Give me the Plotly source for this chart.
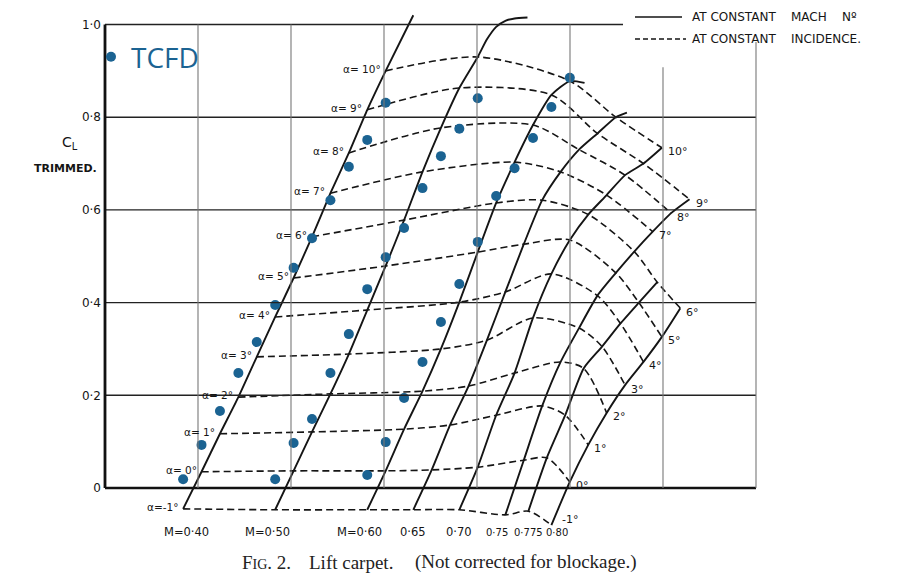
import plotly.graph_objects as go

# ---------------- data ----------------
alphas = [-1, 0, 1, 2, 3, 4, 5, 6, 7, 8, 9, 10]
machs = [0.40, 0.50, 0.60, 0.65, 0.70, 0.75, 0.775, 0.80]
mach_labels = ["M=0·40", "M=0·50", "M=0·60", "0·65", "0·70", "0·75", "0·775", "0·80"]

# trimmed CL at constant Mach number, indexed by alpha (None = not measured)
cl_m040 = [-0.045, 0.035, 0.117, 0.196, 0.283, 0.369, 0.453, 0.542, 0.636, 0.723, 0.816, 0.900]
cl_m050 = [-0.047, 0.037, 0.121, 0.203, 0.289, 0.384, 0.479, 0.578, 0.682, 0.777, 0.863, 0.930]
cl_m060 = [-0.047, 0.037, 0.127, 0.209, 0.300, 0.401, 0.509, 0.615, 0.703, 0.783, 0.848, 0.878]
cl_m065 = [-0.047, 0.039, 0.136, 0.220, 0.319, 0.423, 0.526, 0.621, 0.682, 0.730, 0.765, 0.800]
cl_m070 = [-0.047, 0.045, 0.157, 0.248, 0.367, 0.462, 0.535, 0.590, 0.632, 0.675, 0.700, 0.734]
cl_m075 = [-0.058, 0.060, 0.177, 0.272, 0.345, 0.415, 0.464, 0.510, 0.553, 0.593, 0.623, None]
cl_m0775 = [-0.050, 0.065, 0.157, 0.258, 0.305, 0.355, 0.400, 0.444, None, None, None, None]
cl_m080 = [-0.080, 0.013, 0.093, 0.162, 0.222, 0.272, 0.326, 0.388, None, None, None, None]
cl_table = [cl_m040, cl_m050, cl_m060, cl_m065, cl_m070, cl_m075, cl_m0775, cl_m080]

# continuation of the constant-Mach curves beyond alpha = 10
ext_alpha = {0.40: [11.5], 0.50: [10.5, 11.0, 11.5, 12.0, 12.7], 0.60: [10.8], 0.65: [10.6]}
ext_cl = {0.40: [1.02], 0.50: [0.968, 0.995, 1.008, 1.013, 1.015], 0.60: [0.874], 0.65: [0.81]}

# TCFD results
tcfd_machs = [0.40, 0.50, 0.60]
tcfd_m040 = [0.019, 0.093, 0.166, 0.248, 0.315, 0.395, 0.475, 0.539, 0.621, 0.693, 0.751, 0.831]
tcfd_m050 = [0.019, 0.097, 0.149, 0.248, 0.332, 0.429, 0.498, 0.561, 0.647, 0.716, 0.775, 0.841]
tcfd_m060 = [0.028, 0.099, 0.194, 0.272, 0.358, 0.440, 0.531, 0.630, 0.690, 0.755, 0.822, 0.885]
tcfd_table = [tcfd_m040, tcfd_m050, tcfd_m060]

y_ticks = [0, 0.2, 0.4, 0.6, 0.8, 1.0]
y_ticktext = ["0", "0·2", "0·4", "0·6", "0·8", "1·0"]

# ---------------- page geometry (page has an 8px body margin) ----------------
OFF = 8
W, H = 900 - OFF, 584 - OFF
X0PX, Y0PX, GRIDPX, CLPX = 105, 488, 93.0, 463.5   # axis origin and scale in page pixels


def px(xp):
    return (xp - OFF) / W


def py(yp):
    return 1 - (yp - OFF) / H


def carpet_x(m, a):
    return 0.84 + 9.9 * (m - 0.40) + 0.198 * (a + 1)


INK = "#151515"
BLUE = "#1b6392"
fig = go.Figure()

# constant-Mach curves (solid)
for m, row in zip(machs, cl_table):
    aa = [a for a, c in zip(alphas, row) if c is not None]
    cc = [c for c in row if c is not None]
    aa += ext_alpha.get(m, [])
    cc += ext_cl.get(m, [])
    fig.add_trace(go.Scatter(x=[carpet_x(m, a) for a in aa], y=cc, mode="lines",
                             line=dict(color=INK, width=1.9, shape="spline", smoothing=0.6),
                             showlegend=False, hoverinfo="skip"))

# constant-incidence curves (dashed)
for j, a in enumerate(alphas):
    mm = [m for m, row in zip(machs, cl_table) if row[j] is not None]
    cc = [row[j] for row in cl_table if row[j] is not None]
    fig.add_trace(go.Scatter(x=[carpet_x(m, a) for m in mm], y=cc, mode="lines",
                             line=dict(color=INK, width=1.6, dash="7px,4px", shape="spline", smoothing=0.8),
                             showlegend=False, hoverinfo="skip"))
    txt = "α=%d°" % a if a < 0 else "α= %d°" % a
    fig.add_annotation(x=carpet_x(machs[0], a), y=cc[0], text=txt, showarrow=False,
                       xanchor="right", yanchor="middle", xshift=-3, yshift=2,
                       font=dict(family="DejaVu Sans", size=10.5, color=INK))
    end_dx, end_dy = (9, 6) if a < 0 else (4, -4)
    fig.add_annotation(x=carpet_x(mm[-1], a), y=cc[-1], text="%d°" % a, showarrow=False,
                       xanchor="left", yanchor="middle", xshift=end_dx, yshift=end_dy,
                       font=dict(family="DejaVu Sans", size=11, color=INK))

# Mach labels under the carpet
label_shift = [3, -8, -8, 0, 0, -8, 0, 6]
label_size = [11.5, 11.5, 11.5, 11.5, 11.5, 10, 10, 10]
for m, lab, sh, sz in zip(machs, mach_labels, label_shift, label_size):
    fig.add_annotation(x=carpet_x(m, alphas[0]), y=(Y0PX - 532) / CLPX, text=lab, showarrow=False,
                       xanchor="center", yanchor="middle", xshift=sh,
                       font=dict(family="DejaVu Sans", size=sz, color=INK))

# TCFD points
tx, ty = [], []
for m, row in zip(tcfd_machs, tcfd_table):
    for a, c in zip(alphas, row):
        tx.append(carpet_x(m, a))
        ty.append(c)
fig.add_trace(go.Scatter(x=tx, y=ty, mode="markers", name="TCFD",
                         marker=dict(color=BLUE, size=10), showlegend=True))

# ---------------- grid ----------------
shapes = []
for lvl in [0.2, 0.4, 0.6, 0.8]:
    shapes.append(dict(type="line", xref="x", yref="y", x0=0, x1=7, y0=lvl, y1=lvl,
                       line=dict(color="#222", width=1.4)))
shapes.append(dict(type="line", xref="x", yref="y", x0=0, x1=5.57, y0=1.0, y1=1.0,
                   line=dict(color="#222", width=1.6)))
shapes.append(dict(type="line", xref="x", yref="y", x0=0, x1=7, y0=0, y1=0,
                   line=dict(color="#111", width=2.6)))
v_tops = [1.0, 1.0, 1.0, 1.0, 1.0, 0.908, 0.962]
for i, top in enumerate(v_tops, start=1):
    shapes.append(dict(type="line", xref="x", yref="y", x0=i, x1=i, y0=0, y1=top,
                       line=dict(color="#777", width=1.1)))
shapes.append(dict(type="line", xref="x", yref="y", x0=0, x1=0, y0=0, y1=1.0,
                   line=dict(color="#111", width=2.8)))
# key at top right
shapes.append(dict(type="line", xref="paper", yref="paper", x0=px(635), x1=px(682),
                   y0=py(17), y1=py(17), line=dict(color=INK, width=1.4)))
shapes.append(dict(type="line", xref="paper", yref="paper", x0=px(635), x1=px(686),
                   y0=py(39), y1=py(39), line=dict(color=INK, width=1.4, dash="5px,3px")))

ann_font = dict(family="DejaVu Sans", size=12, color=INK)
fig.add_annotation(xref="paper", yref="paper", x=px(690), y=py(17), xanchor="left", yanchor="middle",
                   text="AT CONSTANT\u00a0\u00a0\u00a0 MACH\u00a0\u00a0\u00a0 Nº", showarrow=False, font=ann_font)
fig.add_annotation(xref="paper", yref="paper", x=px(690), y=py(39), xanchor="left", yanchor="middle",
                   text="AT CONSTANT\u00a0\u00a0\u00a0 INCIDENCE.", showarrow=False, font=ann_font)
fig.add_annotation(xref="paper", yref="paper", x=px(70), y=py(143), xanchor="center", yanchor="middle",
                   text="C<sub>L</sub>", showarrow=False, font=dict(family="DejaVu Sans", size=14, color=INK))
fig.add_annotation(xref="paper", yref="paper", x=px(66), y=py(169), xanchor="center", yanchor="middle",
                   text="<b>TRIMMED.</b>", showarrow=False, font=dict(family="DejaVu Sans", size=11, color=INK))

cap_font = dict(family="Liberation Serif", size=19, color="#222")
fig.add_annotation(xref="paper", yref="paper", x=px(240), y=py(562), xanchor="left", yanchor="middle",
                   text="F<span style='font-size:14px'>IG</span>. 2.", showarrow=False, font=cap_font)
fig.add_annotation(xref="paper", yref="paper", x=px(307), y=py(562), xanchor="left", yanchor="middle",
                   text="Lift carpet.", showarrow=False, font=cap_font)
fig.add_annotation(xref="paper", yref="paper", x=px(413), y=py(562), xanchor="left", yanchor="middle",
                   text="(Not corrected for blockage.)", showarrow=False, font=cap_font)

fig.update_layout(
    width=W, height=H, autosize=False,
    margin=dict(l=0, r=0, t=0, b=0),
    paper_bgcolor="white", plot_bgcolor="white",
    shapes=shapes,
    xaxis=dict(range=[(OFF - X0PX) / GRIDPX, (900 - X0PX) / GRIDPX], visible=False,
               showgrid=False, zeroline=False),
    yaxis=dict(range=[(Y0PX - 584) / CLPX, (Y0PX - OFF) / CLPX], anchor="free", position=px(X0PX),
               tickvals=y_ticks, ticktext=y_ticktext, showgrid=False, zeroline=False,
               showline=False, ticks="", ticklabelstandoff=4,
               tickfont=dict(family="DejaVu Sans", size=12, color=INK)),
    showlegend=True,
    legend=dict(x=px(83 + OFF), y=py(57), xanchor="left", yanchor="middle",
                bgcolor="rgba(0,0,0,0)", font=dict(family="Open Sans", size=28, color=BLUE)),
)

fig.write_html("out.html")
